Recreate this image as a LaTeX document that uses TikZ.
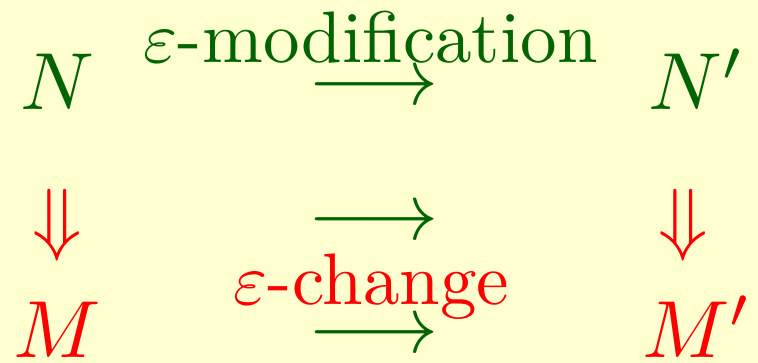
\documentclass[tikz,border=0pt]{standalone}
\usepackage{amsmath}
\definecolor{bgyellow}{RGB}{255,255,208}
\definecolor{dgreen}{RGB}{0,100,0}
\definecolor{bred}{RGB}{255,0,0}
\newcommand{\mathbigger}[1]{\scalebox{1.11}{#1}}
\begin{document}
\begin{tikzpicture}[x=1pt,y=1pt,
  lbl/.style={inner sep=0pt,outer sep=0pt,anchor=base},
  gtxt/.style={lbl,text=dgreen},
  rtxt/.style={lbl,text=bred},
  arr/.style={inner sep=0pt,outer sep=0pt,text=dgreen}]
\fill[bgyellow] (0,0) rectangle (103.84,49.73);
\useasboundingbox (0,0) rectangle (103.84,49.73);
% top row
\node[gtxt] (N) at (7.9,34.66) {\mathbigger{$N$}};
\node[gtxt] (Np) at (95.5,34.66) {\mathbigger{$N'$}};
\node[gtxt] (modlab) at (50.8,41.1) {$\varepsilon$-modification};
\node[arr] (a1) at (51.2,37.5) {\mathbigger{$\longrightarrow$}};
% middle row
\node[inner sep=0pt,text=bred] (d1) at (7.85,18.9) {\mathbigger{$\Downarrow$}};
\node[inner sep=0pt,text=bred] (d2) at (93.6,18.9) {\mathbigger{$\Downarrow$}};
\node[arr] (a2) at (51.2,18.95) {\mathbigger{$\longrightarrow$}};
% bottom row
\node[rtxt] (chlab) at (50.9,7.95) {$\varepsilon$-change};
\node[rtxt] (M) at (7.88,0.82) {\mathbigger{$M$}};
\node[rtxt] (Mp) at (95.5,0.82) {\mathbigger{$M'$}};
\node[arr] (a3) at (51.2,3.47) {\mathbigger{$\longrightarrow$}};
\end{tikzpicture}
\end{document}
